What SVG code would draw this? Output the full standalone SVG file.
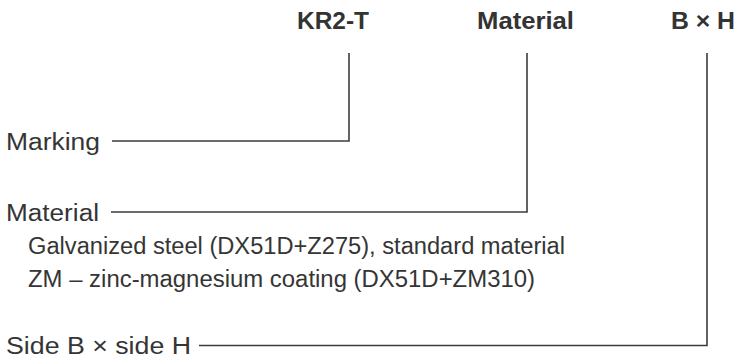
<svg xmlns="http://www.w3.org/2000/svg" width="739" height="358" viewBox="0 0 739 358">
<style>
text{font-family:"Liberation Sans",Arial,sans-serif;font-size:23.5px;fill:#353535}
.h{font-weight:bold;font-size:24px;fill:#333}
.c{fill:none;stroke:#3c3c3c;stroke-width:1.6}
</style>
<rect width="739" height="358" fill="#fff"/>
<g id="head-kr2t"><text class="h" x="297" y="29" textLength="72" lengthAdjust="spacingAndGlyphs">KR2-T</text></g>
<g id="head-material"><text class="h" x="477" y="29" textLength="97" lengthAdjust="spacingAndGlyphs">Material</text></g>
<g id="head-bxh"><text class="h" x="671" y="29" textLength="64" lengthAdjust="spacingAndGlyphs">B × H</text></g>
<g id="marking"><text x="6" y="149.5" textLength="94" lengthAdjust="spacingAndGlyphs">Marking</text></g>
<g id="material">
<text x="6" y="220.5" textLength="93" lengthAdjust="spacingAndGlyphs">Material</text>
<text x="28" y="253.5" textLength="537" lengthAdjust="spacingAndGlyphs">Galvanized steel (DX51D+Z275), standard material</text>
<text x="28" y="286.5" textLength="507" lengthAdjust="spacingAndGlyphs">ZM – zinc-magnesium coating (DX51D+ZM310)</text>
</g>
<g id="side"><text x="6" y="353.5" textLength="185" lengthAdjust="spacingAndGlyphs">Side B × side H</text></g>
<g id="connectors">
<polyline class="c" points="112,141 349,141 349,53"/>
<polyline class="c" points="111,212 527,212 527,53"/>
<polyline class="c" points="199,345.5 707,345.5 707,53"/>
</g>
</svg>
